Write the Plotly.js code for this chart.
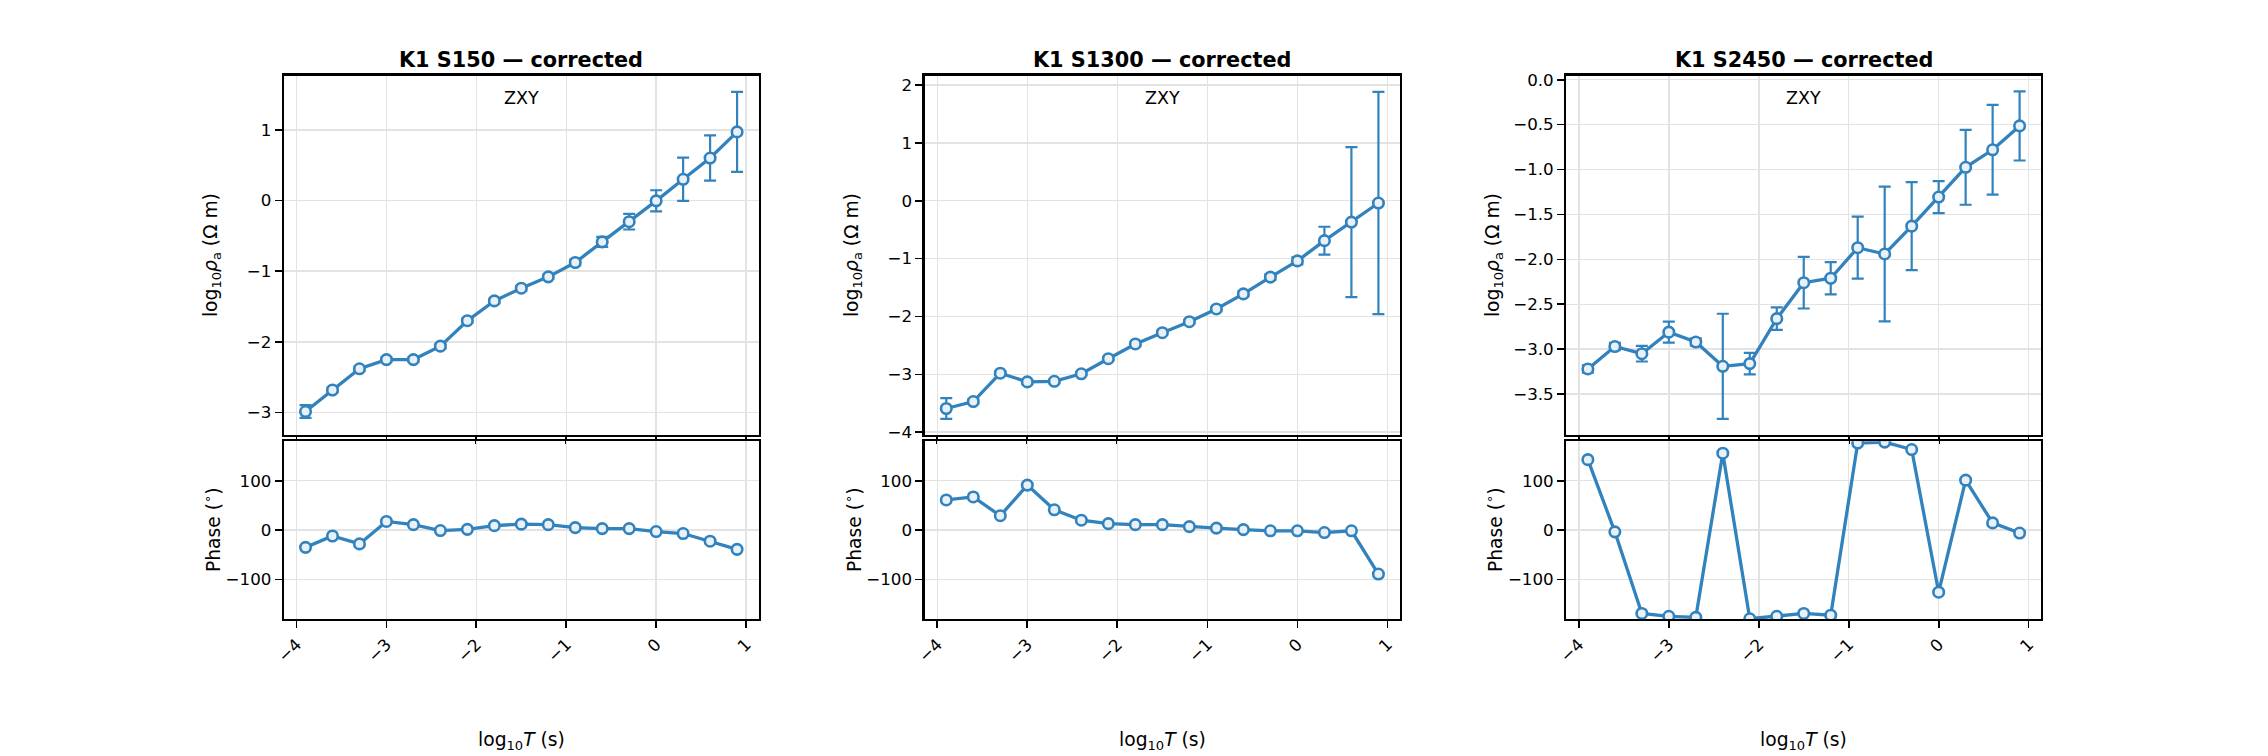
<!DOCTYPE html>
<html>
<head>
<meta charset="utf-8">
<script src="https://cdn.plot.ly/plotly-3.0.1.min.js"></script>
<style>body{margin:0;background:#fff}</style>
</head>
<body>
<div id="mt" style="width:2268px;height:756px"></div>
<script>
// periods (log10 T) - same for the three stations
var logT = [-3.9, -3.6, -3.3, -3.0, -2.7, -2.4, -2.1, -1.8, -1.5, -1.2, -0.9, -0.6, -0.3, 0.0, 0.3, 0.6, 0.9];

var titles = ['K1 S150 — corrected', 'K1 S1300 — corrected', 'K1 S2450 — corrected'];

// apparent resistivity, log10 (ohm m)
var rhoS150  = [-2.985, -2.68, -2.38, -2.25, -2.25, -2.06, -1.70, -1.42, -1.24, -1.08, -0.877, -0.585, -0.30, -0.005, 0.30, 0.60, 0.97];
var rhoS1300 = [-3.59, -3.47, -2.98, -3.13, -3.12, -2.99, -2.73, -2.475, -2.28, -2.09, -1.87, -1.61, -1.32, -1.04, -0.69, -0.37, -0.04];
var rhoS2450 = [-3.22, -2.97, -3.05, -2.81, -2.92, -3.19, -3.16, -2.66, -2.26, -2.21, -1.87, -1.94, -1.63, -1.306, -0.975, -0.78, -0.514];

// error bars on log10 rho
var errS150  = [0.09, 0.03, 0.03, 0.03, 0.03, 0.03, 0.03, 0.03, 0.03, 0.03, 0.04, 0.07, 0.11, 0.15, 0.305, 0.32, 0.565];
var errS1300 = [0.18, 0.04, 0.03, 0.03, 0.03, 0.03, 0.03, 0.03, 0.03, 0.03, 0.03, 0.04, 0.05, 0.06, 0.24, 1.295, 1.92];
var errS2450 = [0.04, 0.04, 0.087, 0.117, 0.04, 0.585, 0.12, 0.125, 0.287, 0.18, 0.345, 0.75, 0.49, 0.178, 0.417, 0.50, 0.385];

// phase (degrees)
var phiS150  = [-35, -12, -28, 17.5, 11, -1, 1.5, 9, 12, 11, 5, 3, 3, -3, -7, -22.5, -39];
var phiS1300 = [61, 67, 29, 91, 41, 20, 13, 11, 11, 7, 4, 1, -1.5, -1.5, -5, -1.5, -89];
var phiS2450 = [142.5, -3.6, -168.7, -174.5, -176.7, 155.6, -179.5, -174.5, -168.7, -172.4, 176, 178, 163, -125.8, 101, 14.5, -6];

var rhoAll = [rhoS150, rhoS1300, rhoS2450];
var errAll = [errS150, errS1300, errS2450];
var phiAll = [phiS150, phiS1300, phiS2450];

var rhoRanges = [[-3.31, 1.765], [-4.04, 2.16], [-3.95, 0.045]];
var rhoDtick = [1, 1, 0.5];

var blue = '#3182bd';
var face = '#e8f0f8';
var font = 'DejaVu Sans, sans-serif';

var colX = [[0.1252, 0.3345], [0.4077, 0.6173], [0.6906, 0.9]];
var topY = [0.4252, 0.8999];
var botY = [0.1812, 0.4165];
var ylabX = [212, 853, 1494];

var data = [];
var layout = {
  width: 2268, height: 756,
  margin: {l: 0, r: 0, t: 0, b: 0},
  paper_bgcolor: '#fff', plot_bgcolor: '#fff',
  showlegend: false,
  font: {family: font, size: 16.7, color: '#000'},
  annotations: []
};

function axisBase(dom) {
  return {
    domain: dom,
    showline: true, mirror: true, linecolor: '#000', linewidth: 2.2,
    ticks: 'outside', ticklen: 7, tickwidth: 1.7, tickcolor: '#000',
    showgrid: true, gridcolor: '#e3e3e3', gridwidth: 1.5,
    zeroline: false,
    tickfont: {family: font, size: 16.7, color: '#000'}
  };
}

var mk = {symbol: 'circle', size: 10.5, color: face, line: {color: blue, width: 2.6}};

for (var i = 0; i < 3; i++) {
  var a = 2 * i + 1, b = 2 * i + 2;
  var xa = 'x' + a, ya = 'y' + a, xb = 'x' + b, yb = 'y' + b;

  data.push({
    x: logT, y: rhoAll[i], xaxis: xa, yaxis: ya,
    type: 'scatter', mode: 'lines+markers',
    line: {color: blue, width: 3.3},
    marker: mk,
    error_y: {type: 'data', array: errAll[i], visible: true, color: blue, thickness: 2.2, width: 6}
  });
  data.push({
    x: logT, y: phiAll[i], xaxis: xb, yaxis: yb,
    type: 'scatter', mode: 'lines+markers',
    line: {color: blue, width: 3.3},
    marker: mk
  });

  var xtop = axisBase(colX[i]);
  xtop.anchor = ya; xtop.range = [-4.14, 1.14]; xtop.dtick = 1; xtop.tick0 = 0;
  xtop.showticklabels = false;
  var ytop = axisBase(topY);
  ytop.anchor = xa; ytop.range = rhoRanges[i]; ytop.dtick = rhoDtick[i]; ytop.tick0 = 0;
  if (i === 2) ytop.tickformat = '.1f';

  var xbot = axisBase(colX[i]);
  xbot.anchor = yb; xbot.range = [-4.14, 1.14]; xbot.dtick = 1; xbot.tick0 = 0;
  xbot.tickangle = -45;
  var ybot = axisBase(botY);
  ybot.anchor = xb; ybot.range = [-180, 180]; ybot.tickvals = [-100, 0, 100];

  layout['xaxis' + a] = xtop;
  layout['yaxis' + a] = ytop;
  layout['xaxis' + b] = xbot;
  layout['yaxis' + b] = ybot;

  var cx = (colX[i][0] + colX[i][1]) / 2;

  // panel title
  layout.annotations.push({
    text: '<b>' + titles[i] + '</b>', xref: 'paper', yref: 'paper',
    x: cx, y: 0.9015, xanchor: 'center', yanchor: 'bottom', showarrow: false,
    font: {family: font, size: 20.8, color: '#000'}
  });
  // component label
  layout.annotations.push({
    text: 'ZXY', xref: xa + ' domain', yref: ya + ' domain',
    x: 0.5, y: 0.937, xanchor: 'center', yanchor: 'middle', showarrow: false,
    font: {family: font, size: 17.5, color: '#000'}
  });
  // y labels
  layout.annotations.push({
    text: 'log<sub>10</sub><i>ρ</i><sub>a</sub> (Ω m)', xref: 'paper', yref: 'paper',
    x: ylabX[i] / 2268, y: (topY[0] + topY[1]) / 2, xanchor: 'center', yanchor: 'middle',
    textangle: -90, showarrow: false, font: {family: font, size: 18.7, color: '#000'}
  });
  layout.annotations.push({
    text: 'Phase (<sup>∘</sup>)', xref: 'paper', yref: 'paper',
    x: ylabX[i] / 2268, y: (botY[0] + botY[1]) / 2, xanchor: 'center', yanchor: 'middle',
    textangle: -90, showarrow: false, font: {family: font, size: 18.7, color: '#000'}
  });
  // x label
  layout.annotations.push({
    text: 'log<sub>10</sub><i>T</i> (s)', xref: 'paper', yref: 'paper',
    x: cx, y: 1 - 741 / 756, xanchor: 'center', yanchor: 'middle', showarrow: false,
    font: {family: font, size: 18.7, color: '#000'}
  });
}

Plotly.newPlot('mt', data, layout, {staticPlot: true});
</script>
</body>
</html>
